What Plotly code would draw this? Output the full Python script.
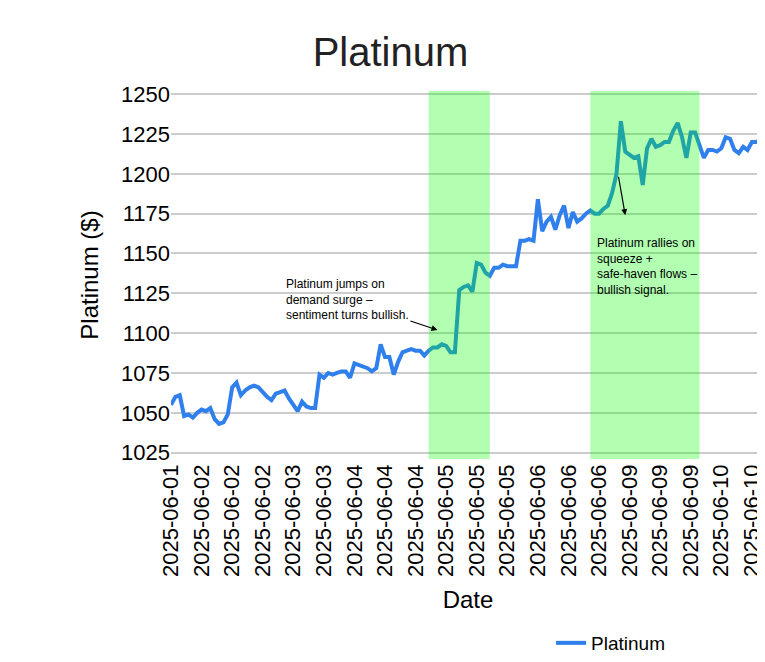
import plotly.graph_objects as go

days = ["2025-06-01", "2025-06-02", "2025-06-03", "2025-06-04",
        "2025-06-05", "2025-06-06", "2025-06-09", "2025-06-10"]
points_per_day = [7, 21, 14, 21, 21, 21, 21, 11]

prices = [1055, 1060, 1061, 1048, 1049, 1047, 1050, 1052, 1051, 1053,
          1046, 1043, 1044, 1049, 1066, 1069, 1061, 1064, 1066, 1067,
          1066, 1063, 1060, 1058, 1062, 1063, 1064, 1059, 1055, 1051,
          1057, 1054, 1053, 1053, 1074, 1072, 1075, 1074, 1075, 1076,
          1076, 1072, 1081, 1080, 1079, 1078, 1076, 1078, 1093, 1085,
          1085, 1074, 1082, 1088, 1089, 1090, 1089, 1089, 1086, 1089,
          1091, 1091, 1093, 1092, 1088, 1088, 1127, 1129, 1130, 1126,
          1144, 1143, 1138, 1136, 1141, 1141, 1143, 1142, 1142, 1142,
          1158, 1158, 1159, 1158, 1184, 1164, 1170, 1173, 1165, 1174,
          1180, 1166, 1176, 1170, 1172, 1175, 1177, 1175, 1175, 1178,
          1180, 1188, 1200, 1233, 1214, 1212, 1210, 1211, 1193, 1216,
          1222, 1217, 1218, 1220, 1220, 1227, 1232, 1223, 1210, 1226,
          1226, 1218, 1210, 1215, 1215, 1214, 1216, 1223, 1222, 1215,
          1213, 1217, 1215, 1220, 1220, 1221, 1224]

shade_ranges = [(59, 73), (96, 121)]

# hourly-ish timestamps, one label per category
stamps = []
for d, n in zip(days, points_per_day):
    for h in range(n):
        stamps.append(f"{d} {h:02d}:00")

tickvals = stamps[::7]
ticktext = [s[:10] for s in tickvals]

fig = go.Figure()
fig.add_trace(go.Scatter(x=stamps, y=prices, mode="lines", name="Platinum",
                         line=dict(color="#2f7fec", width=4)))

for a, b in shade_ranges:
    fig.add_shape(type="rect", xref="x", yref="paper", x0=stamps[a], x1=stamps[b],
                  y0=0, y1=1, fillcolor="lime", opacity=0.3, line_width=0, layer="above")

fig.add_annotation(x=stamps[61], y=1102, ax=-90, ay=-30, showarrow=True,
                   arrowhead=2, arrowwidth=1.2, arrowcolor="black", align="left",
                   text="Platinum jumps on<br>demand surge –<br>sentiment turns bullish.",
                   font=dict(size=12, color="black"))
fig.add_annotation(x=stamps[104], y=1174, ax=-7, ay=-40, showarrow=True, text="",
                   arrowhead=2, arrowwidth=1.2, arrowcolor="black")
fig.add_annotation(x=stamps[97], y=1162, showarrow=False, xanchor="left", yanchor="top",
                   align="left", font=dict(size=12, color="black"),
                   text="Platinum rallies on<br>squeeze +<br>safe-haven flows –<br>bullish signal.")

fig.update_layout(
    width=765, height=662,
    font=dict(family="Liberation Sans, Arial", color="black"),
    title=dict(text="Platinum", x=0.5, xanchor="center", y=0.955, font=dict(size=40, color="#222")),
    plot_bgcolor="white", paper_bgcolor="white",
    margin=dict(l=163, r=8, t=83, b=202),
    showlegend=True,
    legend=dict(orientation="h", x=0.74, y=-0.5, xanchor="center", yanchor="middle",
                font=dict(size=19), itemwidth=30),
    xaxis=dict(type="category", tickmode="array", tickvals=tickvals, ticktext=ticktext,
               tickangle=-90, tickfont=dict(size=22), showgrid=False, automargin=False,
               title=dict(text="Date", font=dict(size=24))),
    yaxis=dict(range=[1021, 1252], dtick=25, tickfont=dict(size=22), gridcolor="#cccccc",
               gridwidth=2, zeroline=False, automargin=False,
               title=dict(text="Platinum ($)", font=dict(size=24))),
)

fig.write_html("out.html")
